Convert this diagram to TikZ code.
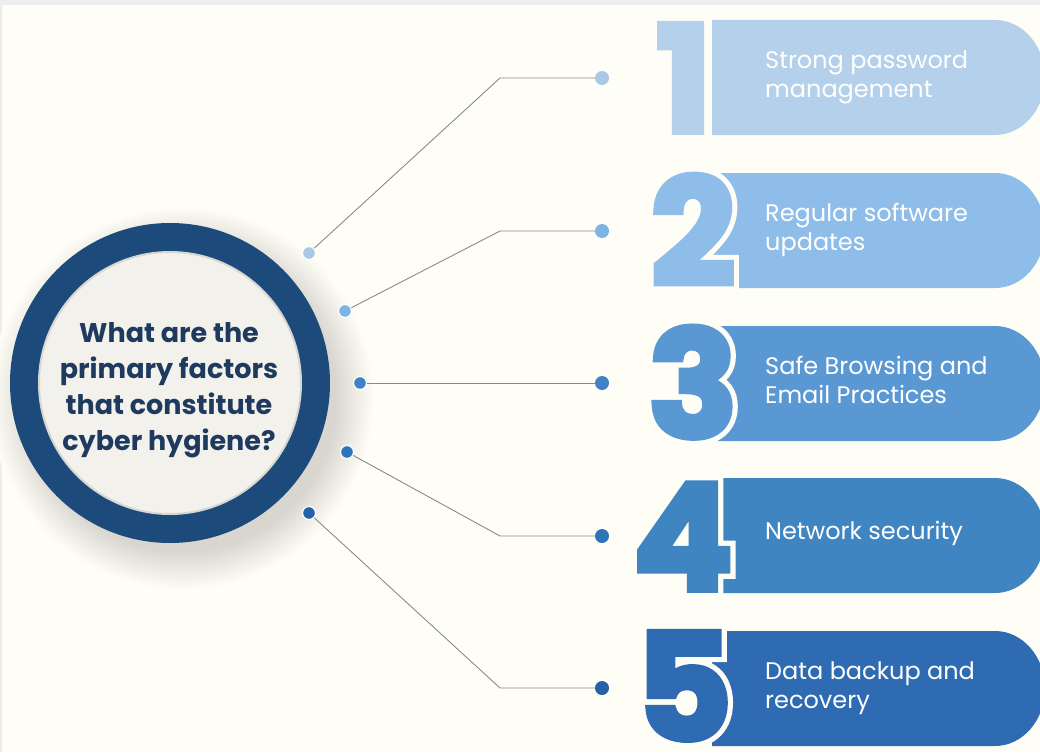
\documentclass[tikz,border=0pt]{standalone}
\usepackage{fontspec}
\setmainfont{Poppins}
\definecolor{bgc}{HTML}{FEFEF6}
\definecolor{edgegray}{HTML}{EDEDED}
\definecolor{shg}{HTML}{D9D6D0}
\definecolor{bA}{HTML}{B4D0EA}
\definecolor{bB}{HTML}{8DBDE8}
\definecolor{bC}{HTML}{5A98D4}
\definecolor{bD}{HTML}{3F85C2}
\definecolor{bE}{HTML}{2F6BB3}
\definecolor{dA}{HTML}{A8C8E6}
\definecolor{dB}{HTML}{7EB3E5}
\definecolor{dC}{HTML}{3F82C6}
\definecolor{dD}{HTML}{2F73B9}
\definecolor{dE}{HTML}{2561A6}
\definecolor{ringc}{HTML}{1C4A7B}
\definecolor{innerc}{HTML}{F2F1EC}
\definecolor{innerb}{HTML}{D6D6D2}
\definecolor{titlec}{HTML}{1E3A5F}
\definecolor{connc}{HTML}{8A8A8A}
\pgfdeclareradialshading{cshadow}{\pgfpoint{0bp}{0bp}}{color(0bp)=(shg); color(20bp)=(shg); color(25bp)=(bgc); color(50bp)=(bgc)}
\begin{document}
\begin{tikzpicture}[x=1pt,y=-1pt,
  numfont/.style={font=\fontsize{148}{148}\selectfont\bfseries\addfontfeature{FakeBold=4}, inner sep=0pt, anchor=base},
  numout/.style={font=\fontsize{148}{148}\selectfont\bfseries\addfontfeature{FakeBold=11}, inner sep=0pt, anchor=base, text=bgc},
  btext/.style={font=\fontsize{24}{29}\selectfont, text=white, inner sep=0pt, anchor=base west},
  ttext/.style={font=\fontsize{27}{36}\selectfont\bfseries, text=titlec, inner sep=0pt, anchor=base},
  dotl/.style={circle, minimum size=13pt, inner sep=0pt, draw=white, line width=1.2pt},
  dotr/.style={circle, minimum size=14pt, inner sep=0pt},
  conn/.style={draw=connc, line width=0.9pt}]
\useasboundingbox (0,0) rectangle (1040,752);
\fill[bgc] (0,0) rectangle (1040,752);
\fill[edgegray] (0,0) rectangle (1040,5);
\fill[edgegray] (0,0) rectangle (2,752);
% banners
\begin{scope}
\clip (0,0) rectangle (1040,752);
\foreach \t/\c in {20/bA,173/bB,326/bC,478/bD,631/bE}{
  \fill[\c] (712,\t) -- (995,\t) arc[start angle=-90,end angle=90,x radius=50,y radius=57.5] -- (712,\t+115) -- cycle;
}
\end{scope}
% numerals with background outline
\foreach \d/\x/\b/\c in {1/684/132/bA,2/693/285/bB,3/693/437/bC,4/683/590/bD,5/684/740/bE}{
  \node[numout] (o\d) at (\x,\b) {\d};
  \node[numfont, text=\c] (n\d) at (\x,\b) {\d};
}
% banner texts
\node[btext] (s1a) at (765,68) {Strong password};
\node[btext] (s1b) at (765,97) {management};
\node[btext] (s2a) at (765,221) {Regular software};
\node[btext] (s2b) at (765,250) {updates};
\node[btext] (s3a) at (765,374) {Safe Browsing and};
\node[btext] (s3b) at (765,403) {Email Practices};
\node[btext] (s4a) at (765,539) {Network security};
\node[btext] (s5a) at (765,679) {Data backup and};
\node[btext] (s5b) at (765,708) {recovery};
% central circle with soft shadow
\shade[shading=cshadow] (182,398) circle[radius=192];
\node[circle, minimum size=320pt, inner sep=0pt, fill=ringc] (ring) at (170,383) {};
\node[circle, minimum size=262pt, inner sep=0pt, fill=innerc, draw=innerb, line width=2pt] (inner) at (170,383) {};
\node[ttext] (t1) at (169,342) {What are the};
\node[ttext] (t2) at (169,378) {primary factors};
\node[ttext] (t3) at (169,414) {that constitute};
\node[ttext] (t4) at (169,450) {cyber hygiene?};
% connectors
\coordinate (e1) at (500,78);
\coordinate (e2) at (500,231);
\coordinate (e4) at (500,536);
\coordinate (e5) at (500,688);
\node[dotl, fill=dA] (l1) at (309,253) {};
\node[dotl, fill=dB] (l2) at (345,311) {};
\node[dotl, fill=dC] (l3) at (360,383) {};
\node[dotl, fill=dD] (l4) at (347,452) {};
\node[dotl, fill=dE] (l5) at (309,513) {};
\node[dotr, fill=dA] (r1) at (602,78) {};
\node[dotr, fill=dB] (r2) at (602,231) {};
\node[dotr, fill=dC] (r3) at (602,383) {};
\node[dotr, fill=dD] (r4) at (602,536) {};
\node[dotr, fill=dE] (r5) at (602,688) {};
\draw[conn] (l1) -- (e1) -- (r1);
\draw[conn] (l2) -- (e2) -- (r2);
\draw[conn] (l3) -- (r3);
\draw[conn] (l4) -- (e4) -- (r4);
\draw[conn] (l5) -- (e5) -- (r5);
\end{tikzpicture}
\end{document}
